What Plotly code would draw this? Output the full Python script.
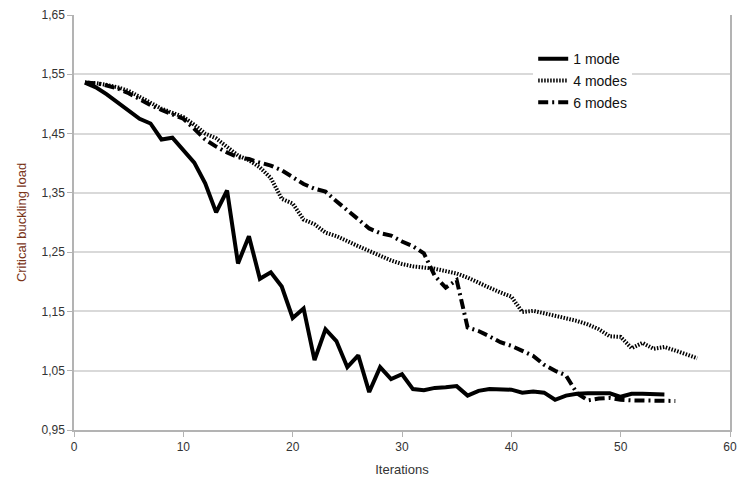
import plotly.graph_objects as go

mode1 = [1.536, 1.528, 1.516, 1.502, 1.490, 1.475, 1.467, 1.440, 1.443, 1.421,
         1.401, 1.366, 1.317, 1.354, 1.231, 1.277, 1.205, 1.216, 1.192, 1.139,
         1.155, 1.068, 1.120, 1.100, 1.056, 1.076, 1.014, 1.056, 1.036, 1.044,
         1.019, 1.017, 1.021, 1.022, 1.024, 1.008, 1.016, 1.019, 1.019, 1.018,
         1.013, 1.015, 1.013, 1.001, 1.008, 1.011, 1.012, 1.012, 1.012, 1.006,
         1.011, 1.011, 1.010, 1.010]
modes4 = [1.536, 1.535, 1.532, 1.528, 1.522, 1.512, 1.502, 1.492, 1.485, 1.478,
          1.465, 1.450, 1.442, 1.428, 1.413, 1.405, 1.393, 1.375, 1.340, 1.332,
          1.305, 1.297, 1.283, 1.277, 1.268, 1.260, 1.252, 1.244, 1.236, 1.230,
          1.226, 1.224, 1.222, 1.218, 1.214, 1.207, 1.198, 1.190, 1.182, 1.175,
          1.149, 1.151, 1.147, 1.143, 1.138, 1.134, 1.128, 1.120, 1.108, 1.107,
          1.088, 1.097, 1.087, 1.090, 1.084, 1.078, 1.071]
modes6 = [1.536, 1.535, 1.531, 1.526, 1.518, 1.508, 1.498, 1.490, 1.483, 1.475,
          1.458, 1.440, 1.428, 1.418, 1.410, 1.407, 1.401, 1.396, 1.388, 1.377,
          1.365, 1.357, 1.352, 1.336, 1.320, 1.305, 1.290, 1.282, 1.278, 1.268,
          1.260, 1.248, 1.210, 1.190, 1.203, 1.123, 1.117, 1.108, 1.098, 1.092,
          1.083, 1.075, 1.060, 1.050, 1.042, 1.012, 1.000, 1.003, 1.004, 1.001,
          1.000, 1.000, 0.999, 1.000, 0.999]

y_ticks = [0.95, 1.05, 1.15, 1.25, 1.35, 1.45, 1.55, 1.65]
y_tick_text = ["0,95", "1,05", "1,15", "1,25", "1,35", "1,45", "1,55", "1,65"]
x_ticks = [0, 10, 20, 30, 40, 50, 60]

fig = go.Figure()
fig.add_trace(go.Scatter(x=list(range(1, len(mode1) + 1)), y=mode1, mode="lines",
                         name="1 mode", legendgroup="a",
                         line=dict(color="black", width=4)))
fig.add_trace(go.Scatter(x=list(range(1, len(modes4) + 1)), y=modes4, mode="lines",
                         name="4 modes", legendgroup="b",
                         line=dict(color="black", width=4, dash="1.5px,1.5px")))
fig.add_trace(go.Scatter(x=list(range(1, len(modes6) + 1)), y=modes6, mode="lines",
                         name="6 modes", legendgroup="c",
                         line=dict(color="black", width=4, dash="10px,4px,2px,4px")))

axis_col = "#b3b3b3"
fig.update_layout(
    width=738, height=487,
    margin=dict(l=74, r=8, t=15, b=57, autoexpand=False),
    paper_bgcolor="white", plot_bgcolor="white",
    font=dict(family="Liberation Sans, Arial, sans-serif", size=12, color="#333333"),
    showlegend=True,
    hovermode=False,
    legend=dict(x=0.70, y=0.932, xanchor="left", yanchor="top",
                bgcolor="white", font=dict(size=14, color="#111111"),
                tracegroupgap=0.5, itemwidth=30),
    xaxis=dict(range=[0, 60], tickvals=x_ticks, showgrid=False, zeroline=False,
               showline=True, linecolor=axis_col, linewidth=1.5, automargin=False,
               ticklabeloverflow="allow",
               ticks="outside", ticklen=5, tickcolor=axis_col,
               title=dict(text="Iterations", font=dict(size=13, color="#333333"), standoff=12)),
    yaxis=dict(range=[0.95, 1.65], tickvals=y_ticks, ticktext=y_tick_text,
               showgrid=True, gridcolor="#d9d9d9", gridwidth=1.5, zeroline=False,
               showline=True, linecolor=axis_col, linewidth=1.5, mirror=True, automargin=False,
               ticks="outside", ticklen=5, tickcolor=axis_col,
               title=dict(text="Critical buckling load", font=dict(size=13, color="#7a3418"), standoff=12)),
)

fig.write_html("out.html", config={"displayModeBar": False},
               post_script="document.body.style.margin='0';")
